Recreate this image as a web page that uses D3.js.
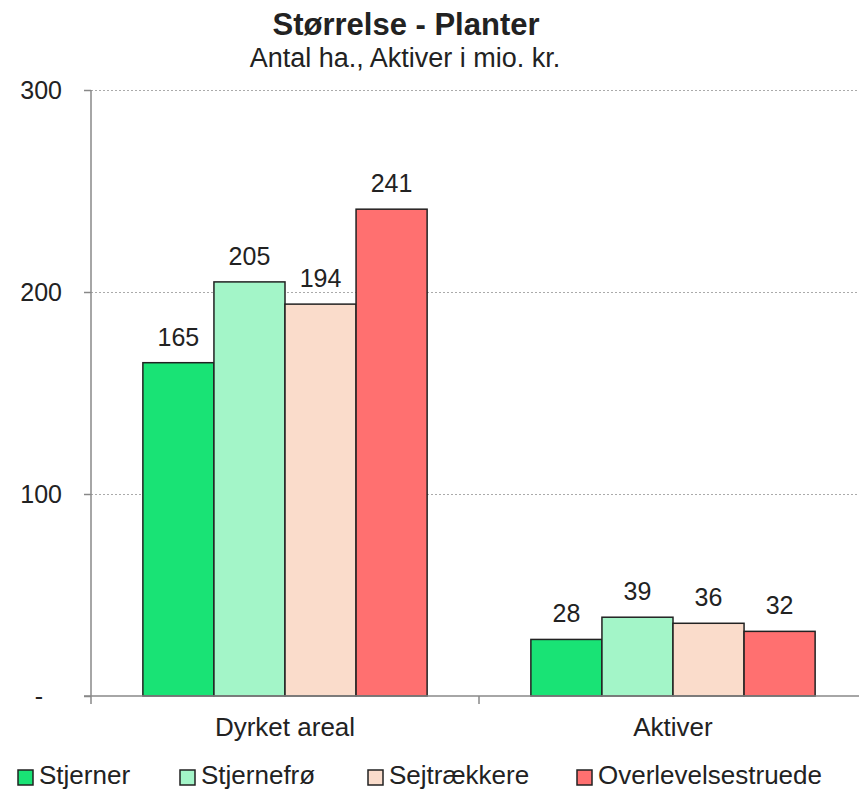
<!DOCTYPE html>
<html><head><meta charset="utf-8">
<script src="https://cdn.jsdelivr.net/npm/d3@7"></script>
<style>body{margin:0;background:#fff}svg{display:block;font-family:"Liberation Sans",Arial,sans-serif}</style>
</head><body><svg id="c" width="859" height="791"></svg>
<script>
const categories = ["Dyrket areal", "Aktiver"];
const seriesNames = ["Stjerner", "Stjernefrø", "Sejtrækkere", "Overlevelsestruede"];
const seriesColors = ["#19e375", "#a3f5c8", "#fadccb", "#ff7070"];
const values = [
  [165, 28],
  [205, 39],
  [194, 36],
  [241, 32]
];
const yTicks = [0, 100, 200, 300];
const yTickLabels = ["-", "100", "200", "300"];

(function () {
const svg = d3.select("#c");
const pL = 91, pR = 867, pT = 90, pB = 696;
const x0 = d3.scaleBand().domain(categories).range([pL, pR]).paddingInner(0).paddingOuter(0);
const x1 = d3.scaleBand().domain(seriesNames).range([0, x0.bandwidth()]).paddingOuter(0.73).paddingInner(0);
const y = d3.scaleLinear().domain([0, 300]).range([pB, pT]);

svg.append("text").attr("x", 406).attr("y", 35).attr("text-anchor", "middle")
  .attr("font-size", 31).attr("font-weight", "bold").attr("fill", "#222").text("Størrelse - Planter");
svg.append("text").attr("x", 405).attr("y", 67).attr("text-anchor", "middle")
  .attr("font-size", 27).attr("fill", "#222").text("Antal ha., Aktiver i mio. kr.");

// gridlines
svg.append("g").selectAll("line").data(yTicks.filter(d => d > 0)).join("line")
  .attr("x1", pL).attr("x2", 859).attr("y1", d => y(d) + 0.5).attr("y2", d => y(d) + 0.5)
  .attr("stroke", "#aaa").attr("stroke-dasharray", "2,2").attr("stroke-width", 1);

// bars
const g = svg.append("g");
seriesNames.forEach((s, si) => {
  categories.forEach((c, ci) => {
    const v = values[si][ci];
    g.append("rect").attr("x", x0(c) + x1(s)).attr("y", y(v))
      .attr("width", x1.bandwidth()).attr("height", y(0) - y(v))
      .attr("fill", seriesColors[si]).attr("stroke", "#222").attr("stroke-width", 1.5);
    g.append("text").attr("x", x0(c) + x1(s) + x1.bandwidth() / 2).attr("y", y(v) - 17)
      .attr("text-anchor", "middle").attr("font-size", 25).attr("fill", "#222").text(v);
  });
});

// y axis
const yAxis = d3.axisLeft(y).tickValues(yTicks).tickFormat((d, i) => yTickLabels[i]).tickSize(7).tickPadding(22);
const ya = svg.append("g").attr("transform", `translate(${pL},0)`).call(yAxis);
ya.select(".domain").attr("stroke", "#888").attr("stroke-width", 1.5).attr("d", `M0,${pT}V${pB}`);
ya.selectAll(".tick line").attr("stroke", "#888").attr("stroke-width", 1.5);
ya.selectAll(".tick text").attr("font-size", 25).attr("fill", "#222").attr("font-family", "Liberation Sans, Arial, sans-serif");
ya.selectAll(".tick text").filter(d => d === 0).attr("dx", -19);

// x axis
const xa = svg.append("g");
xa.append("line").attr("x1", pL - 7).attr("x2", 859).attr("y1", pB).attr("y2", pB)
  .attr("stroke", "#888").attr("stroke-width", 1.5);
xa.selectAll("line.tk").data(categories).join("line").attr("class", "tk")
  .attr("x1", d => x0(d)).attr("x2", d => x0(d)).attr("y1", pB).attr("y2", pB + 8)
  .attr("stroke", "#888").attr("stroke-width", 1.5);
xa.selectAll("text").data(categories).join("text")
  .attr("x", d => x0(d) + x0.bandwidth() / 2).attr("y", 736).attr("text-anchor", "middle")
  .attr("font-size", 26).attr("fill", "#222").text(d => d);

// legend
const legX = [18, 180, 368, 577];
const lg = svg.append("g");
seriesNames.forEach((s, i) => {
  lg.append("rect").attr("x", legX[i]).attr("y", 770).attr("width", 15).attr("height", 15)
    .attr("fill", seriesColors[i]).attr("stroke", "#222").attr("stroke-width", 1.5);
  lg.append("text").attr("x", legX[i] + 21).attr("y", 784).attr("font-size", 26).attr("fill", "#222").text(s);
});
})();
</script></body></html>
